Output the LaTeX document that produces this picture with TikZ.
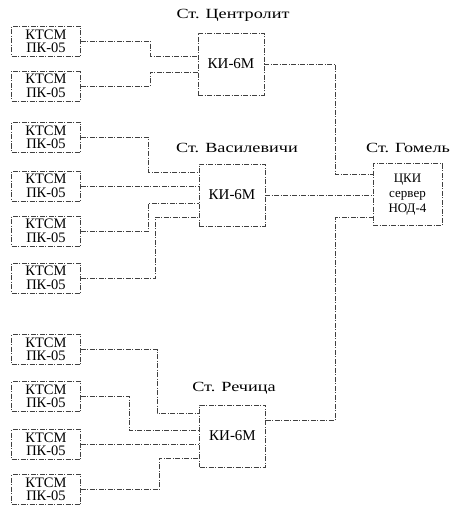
\documentclass[tikz,border=0pt]{standalone}
\usepackage{fontspec}
\setmainfont{Liberation Serif}
\newfontfamily\labelfont{Liberation Serif}[FakeStretch=1.3]
\newfontfamily\boxfont{Liberation Serif}
\begin{document}
\begin{tikzpicture}[x=1pt,y=-1pt,
  ln/.style={draw=black!75, line width=0.7pt, dash pattern=on 5pt off 1.5pt on 1pt off 1.5pt},
  ktsm/.style={ln, minimum width=69pt, minimum height=30pt, inner sep=0pt, align=center, font=\boxfont\fontsize{14.5}{13.5}\selectfont},
  ki/.style={ln, minimum width=66pt, minimum height=62pt, inner sep=0pt, align=center, font=\boxfont\fontsize{15}{15}\selectfont},
  st/.style={font=\labelfont\fontsize{14}{15}\selectfont, inner sep=0pt}]
\useasboundingbox (0,0) rectangle (450,505);
% stations
\node[ki] (k1) at (231,64) {КИ-6М};
\node[ki] (k2) at (232,195) {КИ-6М};
\node[ki] (k3) at (232.5,436) {КИ-6М};
\node[ki, minimum width=69pt, font=\boxfont\fontsize{13}{15}\selectfont] (c) at (407.5,194.5) {ЦКИ\\сервер\\НОД-4};
\node[st] (l1) at (233,15) {Ст. Центролит};
\node[st] (l2) at (237,148) {Ст. Василевичи};
\node[st] (l3) at (408,148) {Ст. Гомель};
\node[st] (l4) at (234,388) {Ст. Речица};
% sensors
\node[ktsm] (b1) at (46,41.5) {КТСМ\\ПК-05};
\node[ktsm] (b2) at (46,86) {КТСМ\\ПК-05};
\node[ktsm] (b3) at (46,137.5) {КТСМ\\ПК-05};
\node[ktsm] (b4) at (46,186) {КТСМ\\ПК-05};
\node[ktsm] (b5) at (46,231) {КТСМ\\ПК-05};
\node[ktsm] (b6) at (46,278) {КТСМ\\ПК-05};
\node[ktsm] (b7) at (46,349.5) {КТСМ\\ПК-05};
\node[ktsm] (b8) at (46,396.5) {КТСМ\\ПК-05};
\node[ktsm] (b9) at (46,444.5) {КТСМ\\ПК-05};
\node[ktsm] (b10) at (46,489.5) {КТСМ\\ПК-05};
% top group
\draw[ln] (b1.east) -- ++(69.5,0) |- ([yshift=8pt]k1.west);
\draw[ln] (b2.east) -- ++(69.5,0) |- ([yshift=-8pt]k1.west);
% middle group
\draw[ln] (b3.east) -- ++(67.5,0) |- ([yshift=23pt]k2.west);
\draw[ln] (b4.east) -- (b4.east -| k2.west);
\draw[ln] (b5.east) -- ++(67.5,0) |- ([yshift=-8pt]k2.west);
\draw[ln] (b6.east) -- ++(74.5,0) |- ([yshift=-22pt]k2.west);
% bottom group
\draw[ln] (b7.east) -- ++(76.5,0) |- ([yshift=23pt]k3.west);
\draw[ln] (b8.east) -- ++(48.5,0) |- ([yshift=6pt]k3.west);
\draw[ln] (b9.east) -- (b9.east -| k3.west);
\draw[ln] (b10.east) -- ++(78.5,0) |- ([yshift=-22pt]k3.west);
% to Gomel
\draw[ln] (k1.east) -- ++(71,0) |- ([yshift=20.5pt]c.west);
\draw[ln] (k2.east) -- (k2.east -| c.west);
\draw[ln] ([yshift=16pt]k3.east) -- ++(69.5,0) |- ([yshift=-22.5pt]c.west);
\end{tikzpicture}
\end{document}
